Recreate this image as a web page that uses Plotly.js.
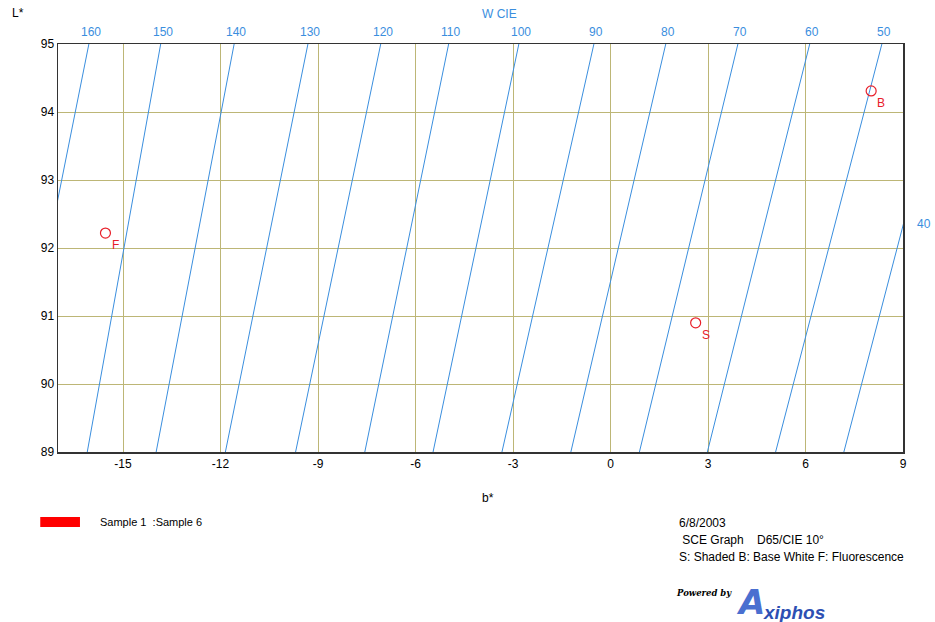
<!DOCTYPE html>
<html>
<head>
<meta charset="utf-8">
<script src="https://cdn.plot.ly/plotly-3.0.1.min.js"></script>
<style>html,body{margin:0;padding:0;background:#fff;}#chart{width:935px;height:622px;}</style>
</head>
<body>
<div id="chart"></div>
<script>
// ---- data ----
const bTicks = [-15, -12, -9, -6, -3, 0, 3, 6, 9];
const lTicks = [89, 90, 91, 92, 93, 94, 95];
const wLevels = [160, 150, 140, 130, 120, 110, 100, 90, 80, 70, 60, 50, 40];
const bAtL95 = [-16.05, -13.84, -11.58, -9.31, -7.07, -4.98, -2.82, -0.51, 1.70, 3.92, 6.13, 8.35, 10.46];
const bAtL89 = [-18.56, -16.10, -13.98, -11.85, -9.69, -7.56, -5.46, -3.34, -1.22, 0.89, 2.98, 5.08, 7.18];
const sampleB = [-15.54, 2.62, 8.02];
const sampleL = [92.22, 90.90, 94.31];
const sampleTags = ['F', 'S', 'B'];
const legendText = 'Sample 1  :Sample 6';
const infoLines = ['6/8/2003', ' SCE Graph    D65/CIE 10°', 'S: Shaded B: Base White F: Fluorescence'];

const X_MIN = -17, X_MAX = 9, Y_MIN = 89, Y_MAX = 95;
const blue = '#3a8ede';
const red = '#e8202a';

const traces = [];
wLevels.forEach((w, i) => {
  traces.push({
    x: [bAtL89[i], bAtL95[i]],
    y: [Y_MIN, Y_MAX],
    mode: 'lines',
    line: {color: blue, width: 1},
    hoverinfo: 'skip',
    showlegend: false
  });
});
traces.push({
  x: sampleB, y: sampleL,
  mode: 'markers',
  marker: {symbol: 'circle-open', size: 10, color: red, line: {width: 1.2, color: red}},
  showlegend: false
});

const annotations = [];
const font = {family: 'Arial, Liberation Sans, sans-serif', size: 12, color: '#000'};
// iso-whiteness labels
wLevels.forEach((w, i) => {
  if (bAtL95[i] <= X_MAX) {
    annotations.push({x: bAtL95[i], xref: 'x', y: 1, yref: 'paper', yanchor: 'bottom', xanchor: 'center',
      yshift: 3, xshift: 2, text: String(w), showarrow: false, font: {family: font.family, size: 12, color: blue}});
  } else {
    const t = (X_MAX - bAtL89[i]) / (bAtL95[i] - bAtL89[i]);
    const lAt = Y_MIN + t * (Y_MAX - Y_MIN);
    annotations.push({x: 1, xref: 'paper', y: lAt, yref: 'y', xanchor: 'left', yanchor: 'middle',
      xshift: 12, yshift: 2, text: String(w), showarrow: false, font: {family: font.family, size: 12, color: blue}});
  }
});
annotations.push({x: 0.522, xref: 'paper', y: 1, yref: 'paper', yanchor: 'bottom', xanchor: 'center', yshift: 21,
  text: 'W CIE', showarrow: false, font: {family: font.family, size: 12, color: blue}});
// sample tags
sampleTags.forEach((t, i) => {
  annotations.push({x: sampleB[i], y: sampleL[i], xref: 'x', yref: 'y', text: t, showarrow: false,
    xshift: 10, yshift: -12, font: {family: font.family, size: 12, color: red}});
});
// axis titles
annotations.push({x: -0.047, xref: 'paper', y: 1, yref: 'paper', text: 'L*', showarrow: false, font: font,
  xanchor: 'center', yanchor: 'bottom', yshift: 22});
annotations.push({x: 0.509, xref: 'paper', y: 0, yref: 'paper', text: 'b*', showarrow: false, font: font,
  xanchor: 'center', yanchor: 'top', yshift: -37});
// legend
annotations.push({x: 0.047, xref: 'paper', y: 0, yref: 'paper', text: legendText, showarrow: false,
  font: {family: font.family, size: 11, color: '#000'}, xanchor: 'left', yanchor: 'middle', yshift: -70});
// info block
infoLines.forEach((s, i) => {
  annotations.push({x: 0.732, xref: 'paper', y: 0, yref: 'paper', text: s.replace(/ /g, '&nbsp;'), showarrow: false,
    font: {family: font.family, size: 12, color: '#000'}, xanchor: 'left', yanchor: 'middle', yshift: -71 - i * 17});
});
// logo
annotations.push({x: 0.729, xref: 'paper', y: 0, yref: 'paper', text: '<b><i>Powered by</i></b>', showarrow: false,
  font: {family: 'DejaVu Serif, serif', size: 8.5, color: '#000'}, xanchor: 'left', yanchor: 'middle', yshift: -141});
annotations.push({x: 0.800, xref: 'paper', y: 0, yref: 'paper', text: '<b><i>A</i></b>', showarrow: false,
  font: {family: 'DejaVu Sans, sans-serif', size: 34, color: '#4a6fd0'}, xanchor: 'left', yanchor: 'middle', yshift: -150});
annotations.push({x: 0.832, xref: 'paper', y: 0, yref: 'paper', text: '<b><i>xiphos</i></b>', showarrow: false,
  font: {family: 'Liberation Sans, Arial, sans-serif', size: 19, color: '#2d4fb3'}, xanchor: 'left', yanchor: 'middle', yshift: -160});

const plotH = 622 - 44 - 170;
const shapes = [{type: 'rect', xref: 'paper', yref: 'paper', x0: -0.021, x1: 0.026,
  y0: -(517 - (44 + plotH)) / plotH, y1: -(527 - (44 + plotH)) / plotH,
  fillcolor: '#ff0000', line: {width: 0}}];

const layout = {
  width: 935, height: 622,
  margin: {l: 58, r: 32, t: 44, b: 170},
  paper_bgcolor: '#fff', plot_bgcolor: '#fff',
  showlegend: false,
  xaxis: {range: [X_MIN, X_MAX], tickvals: bTicks, ticktext: bTicks.map(String),
    showgrid: true, gridcolor: '#bdb676', gridwidth: 1, zeroline: false,
    showline: true, linecolor: '#333', linewidth: 1.5, mirror: true, ticks: '',
    tickfont: font, fixedrange: true},
  yaxis: {range: [Y_MIN, Y_MAX], tickvals: lTicks, ticktext: lTicks.map(String),
    showgrid: true, gridcolor: '#bdb676', gridwidth: 1, zeroline: false,
    showline: true, linecolor: '#333', linewidth: 1.5, mirror: true, ticks: '',
    tickfont: font, fixedrange: true},
  annotations: annotations,
  shapes: shapes
};
Plotly.newPlot('chart', traces, layout, {staticPlot: true});
</script>
</body>
</html>
